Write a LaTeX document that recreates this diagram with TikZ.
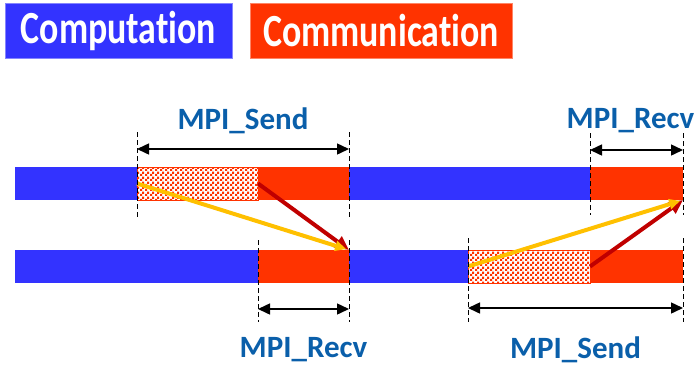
\documentclass[tikz,border=0pt]{standalone}
\usepackage{fontspec}
\setmainfont{Carlito}[Ligatures=NoCommon]
\newfontfamily\legendfont{Carlito}[FakeStretch=0.78, Ligatures=NoCommon]
\usetikzlibrary{arrows.meta, patterns, positioning}
\definecolor{compblue}{HTML}{3333FF}
\definecolor{commred}{HTML}{FF3300}
\definecolor{msgyellow}{HTML}{FFC000}
\definecolor{msgred}{HTML}{C00000}
\definecolor{mpiblue}{HTML}{0A5FAA}
\pgfdeclarepatternformonly{finecheck}{\pgfpointorigin}{\pgfpoint{5pt}{5pt}}{\pgfpoint{5pt}{5pt}}{%
  \pgfpathrectangle{\pgfpointorigin}{\pgfpoint{2.5pt}{2.5pt}}%
  \pgfpathrectangle{\pgfpoint{2.5pt}{2.5pt}}{\pgfpoint{2.5pt}{2.5pt}}%
  \pgfusepath{fill}}

\begin{document}
\begin{tikzpicture}[x=1pt, y=-1pt,
  legend/.style={rectangle, inner sep=0pt, minimum height=55pt, text=white,
                 font=\legendfont\fontsize{46}{50}\selectfont\bfseries},
  seg/.style={rectangle, anchor=north west, inner sep=0pt, outer sep=0pt,
              minimum height=33pt},
  comp/.style={seg, fill=compblue},
  comm/.style={seg, fill=commred},
  busy/.style={seg, preaction={fill=white}, pattern=finecheck,
               pattern color=commred, draw=commred, line width=0.8pt},
  span/.style={{Triangle[length=12pt, width=11pt]}-{Triangle[length=12pt, width=11pt]},
               line width=1.5pt, black},
  guide/.style={line width=1pt, dash pattern=on 5pt off 3pt, black},
  msgd/.style={-{Triangle[length=14pt, width=13pt]}, line width=4pt, msgred},
  msgy/.style={-{Triangle[length=11pt, width=10pt]}, line width=4pt, msgyellow},
  mpi/.style={text=mpiblue, font=\fontsize{31}{34}\selectfont\bfseries},
]
  \useasboundingbox (0,0) rectangle (697,365);
  % Legend
  \node[legend, fill=compblue, draw=compblue!60!white, line width=0.8pt,
        minimum width=227pt] (lcomp) at (118.5,30.5) {Computation};
  \node[legend, fill=commred, draw=commred!60!white, line width=0.8pt,
        minimum width=262pt] (lcomm) at (381,30.5) {Communication};

  % Upper process
  \node[comp, minimum width=122pt] (t1) at (15,167) {};
  \node[busy, minimum width=121pt, right=0pt of t1] (t2) {};
  \node[comm, minimum width=91pt, right=0pt of t2] (t3) {};
  \node[comp, minimum width=241pt, right=0pt of t3] (t4) {};
  \node[comm, minimum width=93pt, right=0pt of t4] (t5) {};
  % Lower process
  \node[comp, minimum width=243pt] (b1) at (15,250) {};
  \node[comm, minimum width=91pt, right=0pt of b1] (b2) {};
  \node[comp, minimum width=119pt, right=0pt of b2] (b3) {};
  \node[busy, minimum width=122pt, right=0pt of b3] (b4) {};
  \node[comm, minimum width=93pt, right=0pt of b4] (b5) {};

  % Messages
  \draw[msgd] (t2.east) -- (b2.north east);
  \draw[msgy, shorten >=3pt] (t2.west) -- (b2.north east);
  \draw[msgd] (b4.east) -- (t5.south east);
  \draw[msgy, shorten >=3pt] (b4.west) -- (t5.south east);

  % Upper MPI_Send
  \draw[guide] ([yshift=35pt]t2.north west) -- ([yshift=-17pt]t2.south west);
  \draw[guide] ([yshift=35pt]t3.north east) -- ([yshift=-17pt]t3.south east);
  \draw[span] ([yshift=18pt]t2.north west) -- ([yshift=18pt]t3.north east)
    node[midway, mpi, yshift=28pt] (ts) {MPI\_Send};
  % Upper MPI_Recv
  \draw[guide] ([yshift=34pt]t5.north west) -- ([yshift=-15pt]t5.south west);
  \draw[guide] ([yshift=34pt]t5.north east) -- ([yshift=-15pt]t5.south east);
  \draw[span] ([yshift=17pt]t5.north west) -- ([yshift=17pt]t5.north east)
    node[midway, mpi, yshift=29pt, xshift=-6pt] (tr) {MPI\_Recv};
  % Lower MPI_Recv
  \draw[guide] ([yshift=10pt]b2.north west) -- ([yshift=-39pt]b2.south west);
  \draw[guide] ([yshift=10pt]b2.north east) -- ([yshift=-39pt]b2.south east);
  \draw[span] ([yshift=-26pt]b2.south west) -- ([yshift=-26pt]b2.south east)
    node[midway, mpi, yshift=-41pt] (br) {MPI\_Recv};
  % Lower MPI_Send
  \draw[guide] ([yshift=12pt]b4.north west) -- ([yshift=-39pt]b4.south west);
  \draw[guide] ([yshift=12pt]b5.north east) -- ([yshift=-39pt]b5.south east);
  \draw[span] ([yshift=-25pt]b4.south west) -- ([yshift=-25pt]b5.south east)
    node[midway, mpi, yshift=-42pt] (bs) {MPI\_Send};
\end{tikzpicture}
\end{document}
